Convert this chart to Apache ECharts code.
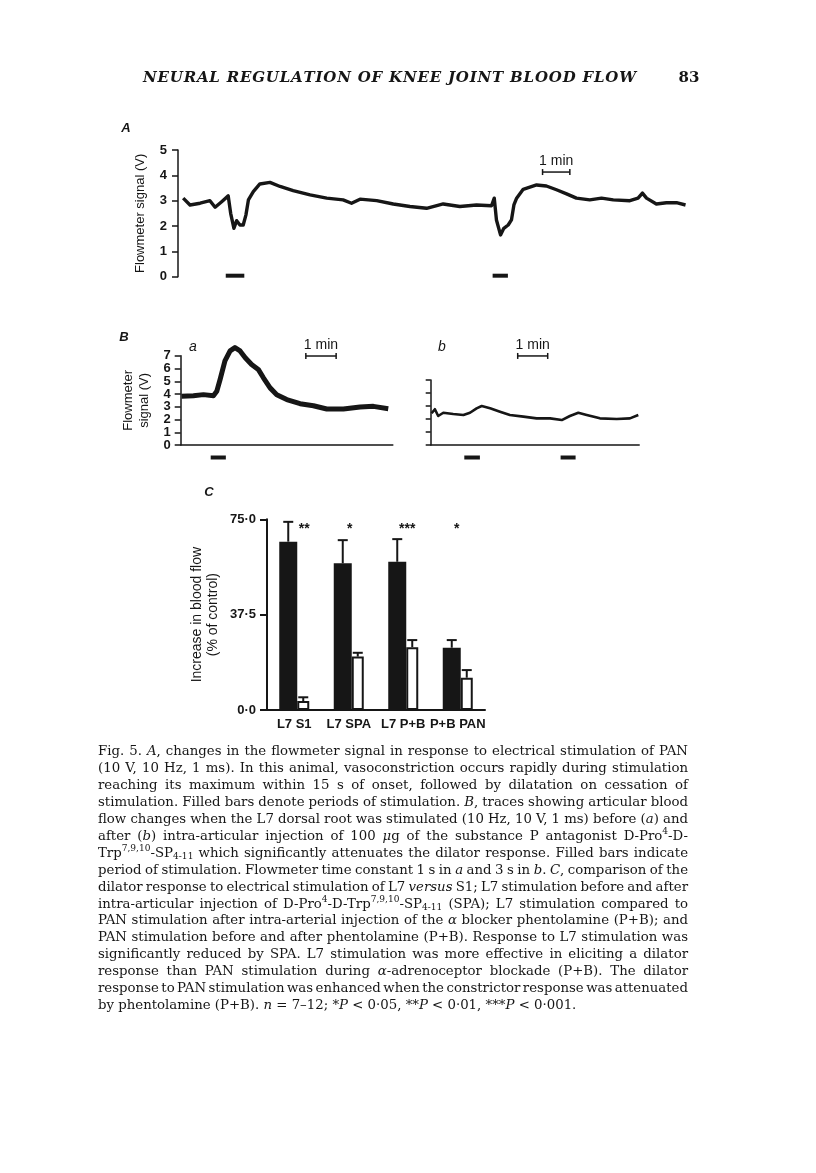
<!DOCTYPE html>
<html>
<head>
<meta charset="utf-8">
<script src="https://cdn.jsdelivr.net/npm/echarts@6/dist/echarts.min.js"></script>
<style>
  html, body { margin: 0; padding: 0; background: #fff; }
  #page { width: 816px; height: 1173px; }
</style>
</head>
<body>
<div id="page"></div>
<script>
const INK = "#161616";
const SANS = "Liberation Sans";
const SERIF = "DejaVu Serif";

// A: flowmeter signal (V) against time (min), PAN stimulation
const traceA = [
  [0.19, 3.1], [0.44, 2.83], [0.81, 2.9], [1.17, 3.0], [1.36, 2.74], [1.6, 2.96], [1.84, 3.19],
  [1.93, 2.5], [2.05, 1.91], [2.15, 2.21], [2.27, 2.04], [2.39, 2.04], [2.49, 2.44], [2.58, 3.03],
  [2.76, 3.36], [3.0, 3.66], [3.37, 3.72], [3.74, 3.56], [4.22, 3.4], [4.84, 3.23], [5.45, 3.1],
  [6.05, 3.03], [6.36, 2.9], [6.67, 3.06], [7.28, 3.0], [7.89, 2.87], [8.5, 2.77], [9.11, 2.7],
  [9.72, 2.87], [10.33, 2.77], [10.94, 2.83], [11.49, 2.8], [11.59, 3.1], [11.67, 2.24], [11.82, 1.65],
  [11.94, 1.91], [12.1, 2.04], [12.22, 2.24], [12.31, 2.83], [12.41, 3.1], [12.65, 3.45], [13.14, 3.62],
  [13.5, 3.58], [13.87, 3.43], [14.24, 3.27], [14.6, 3.1], [15.09, 3.03], [15.52, 3.1], [15.95, 3.03],
  [16.56, 3.0], [16.86, 3.1], [17.02, 3.3], [17.17, 3.1], [17.53, 2.87], [17.9, 2.92], [18.27, 2.92],
  [18.6, 2.83]
];
const stimA = [[1.75, 2.43, 0], [11.53, 12.09, 0]];
const scaleA = [[13.36, 14.36, 4.13]];

// B a: L7 stimulation before SPA
const traceBa = [
  [0.03, 3.82], [0.42, 3.87], [0.75, 3.95], [1.08, 3.87], [1.19, 4.21], [1.3, 5.14], [1.46, 6.59],
  [1.63, 7.38], [1.79, 7.64], [1.96, 7.38], [2.13, 6.85], [2.34, 6.32], [2.56, 5.93], [2.73, 5.27],
  [2.95, 4.48], [3.17, 3.95], [3.5, 3.56], [3.94, 3.24], [4.38, 3.08], [4.82, 2.82], [5.37, 2.82],
  [5.92, 2.98], [6.36, 3.03], [6.85, 2.85]
];
const stimBa = [[0.99, 1.49, 0]];
const scaleBa = [[4.13, 5.13, 6.98]];
const ticksBa = [0, 1, 2, 3, 4, 5, 6, 7];

// B b: after SPA
const traceBb = [
  [0.03, 2.44], [0.14, 2.75], [0.25, 2.23], [0.42, 2.48], [0.75, 2.38], [1.09, 2.31], [1.31, 2.48],
  [1.53, 2.82], [1.7, 3.0], [1.98, 2.82], [2.31, 2.56], [2.64, 2.31], [3.09, 2.18], [3.53, 2.05],
  [3.98, 2.05], [4.37, 1.92], [4.64, 2.23], [4.92, 2.48], [5.2, 2.31], [5.64, 2.05], [6.2, 2.0],
  [6.64, 2.05], [6.92, 2.31]
];
const stimBb = [[1.12, 1.64, 0], [4.33, 4.83, 0]];
const scaleBb = [[2.9, 3.9, 6.85]];
const scaleLabel = "1 min";

// C: increase in blood flow (% of control)
const groups = ["L7 S1", "L7 SPA", "L7 P+B", "P+B PAN"];
const filledMean = [66.2, 57.7, 58.3, 24.5];
const filledErr = [7.8, 9.1, 8.9, 3.0];
const openMean = [3.5, 21.0, 24.7, 12.7];
const openErr = [1.5, 1.5, 2.8, 3.0];
const stars = ["**", "*", "***", "*"];

const header = "NEURAL REGULATION OF KNEE JOINT BLOOD FLOW";
const pageNo = "83";

// _x_ italic, ^x^ superscript, ~x~ subscript
const captionLines = [
  "Fig. 5. _A_, changes in the flowmeter signal in response to electrical stimulation of PAN",
  "(10 V, 10 Hz, 1 ms). In this animal, vasoconstriction occurs rapidly during stimulation",
  "reaching its maximum within 15 s of onset, followed by dilatation on cessation of",
  "stimulation. Filled bars denote periods of stimulation. _B_, traces showing articular blood",
  "flow changes when the L7 dorsal root was stimulated (10 Hz, 10 V, 1 ms) before (_a_) and",
  "after (_b_) intra-articular injection of 100 _μ_g of the substance P antagonist D-Pro^4^-D-",
  "Trp^7,9,10^-SP~4-11~ which significantly attenuates the dilator response. Filled bars indicate",
  "period of stimulation. Flowmeter time constant 1 s in _a_ and 3 s in _b_. _C_, comparison of the",
  "dilator response to electrical stimulation of L7 _versus_ S1; L7 stimulation before and after",
  "intra-articular injection of D-Pro^4^-D-Trp^7,9,10^-SP~4-11~ (SPA); L7 stimulation compared to",
  "PAN stimulation after intra-arterial injection of the _α_ blocker phentolamine (P+B); and",
  "PAN stimulation before and after phentolamine (P+B). Response to L7 stimulation was",
  "significantly reduced by SPA. L7 stimulation was more effective in eliciting a dilator",
  "response than PAN stimulation during _α_-adrenoceptor blockade (P+B). The dilator",
  "response to PAN stimulation was enhanced when the constrictor response was attenuated",
  "by phentolamine (P+B). _n_ = 7–12; *_P_ < 0·05, **_P_ < 0·01, ***_P_ < 0·001."
];

// ---- text layout helpers ----
const measureCtx = document.createElement("canvas").getContext("2d");

function segFont(kind, size) {
  if (kind === "i") return `italic ${size}px "${SERIF}"`;
  if (kind === "sup" || kind === "sub") return `${(size * 0.68).toFixed(2)}px "${SERIF}"`;
  return `${size}px "${SERIF}"`;
}

function splitSegs(word) {
  const segs = [];
  const re = /_([^_]+)_|\^([^^]+)\^|~([^~]+)~|([^_^~]+)/g;
  let m;
  while ((m = re.exec(word))) {
    if (m[1]) segs.push({ t: m[1], k: "i" });
    else if (m[2]) segs.push({ t: m[2], k: "sup" });
    else if (m[3]) segs.push({ t: m[3], k: "sub" });
    else segs.push({ t: m[4], k: "n" });
  }
  return segs;
}

function segWidth(s, size) {
  measureCtx.font = segFont(s.k, size);
  return measureCtx.measureText(s.t).width;
}

function textEl(x, y, text, font, align) {
  return {
    type: "text",
    x: x,
    y: y,
    silent: true,
    style: { text: text, font: font, fill: INK, textAlign: align || "left", textVerticalAlign: "middle" },
  };
}

function captionElements() {
  const left = 98, right = 688, top = 752, lineH = 16.9;
  const boxW = right - left;
  const words = captionLines.map((l) => l.split(" ").map(splitSegs));
  const base = 12.5;
  measureCtx.font = segFont("n", base);
  const sp = measureCtx.measureText(" ").width;
  let sum = 0;
  words.slice(0, -1).forEach((ws) => {
    sum += ws.reduce((a, w) => a + w.reduce((b, s) => b + segWidth(s, base), 0), 0) + sp * (ws.length - 1);
  });
  const avg = sum / (words.length - 1);
  const size = Math.min(14, Math.max(11, (base * 0.985 * boxW) / avg));
  measureCtx.font = segFont("n", size);
  const space = measureCtx.measureText(" ").width;

  const out = [];
  words.forEach((ws, li) => {
    const y = top + li * lineH;
    const widths = ws.map((w) => w.reduce((b, s) => b + segWidth(s, size), 0));
    const total = widths.reduce((a, b) => a + b, 0);
    const last = li === words.length - 1;
    const gap = last || ws.length < 2 ? space : Math.max(1.5, (boxW - total) / (ws.length - 1));
    let x = left;
    ws.forEach((w, wi) => {
      let sx = x;
      w.forEach((s) => {
        const dy = s.k === "sup" ? -0.36 * size : s.k === "sub" ? 0.26 * size : 0;
        out.push(textEl(sx, y + dy, s.t, segFont(s.k, size)));
        sx += segWidth(s, size);
      });
      x += widths[wi] + gap;
    });
  });
  return out;
}

function headerElements() {
  const left = 143, right = 636, y = 78;
  const font = `italic bold 15px "${SERIF}"`;
  measureCtx.font = font;
  const chars = header.split("");
  const ws = chars.map((c) => measureCtx.measureText(c).width);
  const total = ws.reduce((a, b) => a + b, 0);
  const extra = (right - left - total) / (chars.length - 1);
  const out = [];
  let x = left;
  chars.forEach((c, i) => {
    if (c !== " ") out.push(textEl(x, y, c, font));
    x += ws[i] + extra;
  });
  out.push(textEl(689, y, pageNo, `bold 15px "${SERIF}"`, "center"));
  return out;
}

// ---- custom renderers ----
function stimRender(drop) {
  return function (params, api) {
    const a = api.coord([api.value(0), api.value(2)]);
    const b = api.coord([api.value(1), api.value(2)]);
    return {
      type: "rect",
      shape: { x: a[0], y: a[1] + drop - 2, width: b[0] - a[0], height: 4 },
      style: { fill: INK },
    };
  };
}

function scaleRender(params, api) {
  const a = api.coord([api.value(0), api.value(2)]);
  const b = api.coord([api.value(1), api.value(2)]);
  const ln = { stroke: INK, lineWidth: 1.5 };
  return {
    type: "group",
    children: [
      { type: "line", shape: { x1: a[0], y1: a[1], x2: b[0], y2: b[1] }, style: ln },
      { type: "line", shape: { x1: a[0], y1: a[1] - 3, x2: a[0], y2: a[1] + 3 }, style: ln },
      { type: "line", shape: { x1: b[0], y1: b[1] - 3, x2: b[0], y2: b[1] + 3 }, style: ln },
      {
        type: "text",
        x: (a[0] + b[0]) / 2,
        y: a[1] - 11,
        style: { text: scaleLabel, font: `14px "${SANS}"`, fill: INK, textAlign: "center", textVerticalAlign: "middle" },
      },
    ],
  };
}

// tick labels of B a are packed tighter than echarts allows, so draw them here
function tickLabelRender(params, api) {
  const p = api.coord([0, api.value(0)]);
  return {
    type: "text",
    x: p[0] - 10,
    y: p[1],
    style: { text: String(api.value(0)), font: `bold 13px "${SANS}"`, fill: INK, textAlign: "right", textVerticalAlign: "middle" },
  };
}

const FILLED_W = 18, OPEN_W = 12;
function errRender(dx) {
  return function (params, api) {
    const base = api.coord([api.value(0), api.value(1)]);
    const top = api.coord([api.value(0), api.value(1) + api.value(2)]);
    const x = base[0] + dx;
    const st = { stroke: INK, lineWidth: 2 };
    return {
      type: "group",
      children: [
        { type: "line", shape: { x1: x, y1: base[1], x2: x, y2: top[1] }, style: st },
        { type: "line", shape: { x1: x - 5, y1: top[1], x2: x + 5, y2: top[1] }, style: st },
      ],
    };
  };
}

const STAR_LEVEL = 71;
const starDx = [10, 1, 4, -1];
function starRender(params, api) {
  const p = api.coord([api.value(0), api.value(1)]);
  return {
    type: "text",
    x: p[0] + starDx[params.dataIndex],
    y: p[1],
    style: { text: stars[params.dataIndex], font: `bold 14px "${SANS}"`, fill: INK, textAlign: "center", textVerticalAlign: "middle" },
  };
}

// ---- axes ----
const tickLabel = {
  color: INK,
  fontFamily: SANS,
  fontSize: 13,
  fontWeight: "bold",
  showMinLabel: true,
  showMaxLabel: true,
};
const axisLn = { show: true, lineStyle: { color: INK, width: 1.5 } };

function yAxisCfg(grid, max, extra) {
  return Object.assign(
    {
      type: "value",
      gridIndex: grid,
      min: 0,
      max: max,
      interval: 1,
      axisLine: axisLn,
      axisTick: { show: true, length: 6, lineStyle: { color: INK, width: 1.5 } },
      splitLine: { show: false },
      nameLocation: "middle",
      nameTextStyle: { color: INK, fontFamily: SANS, fontSize: 13, lineHeight: 16 },
    },
    extra
  );
}

const chart = echarts.init(document.getElementById("page"), null, { renderer: "canvas" });

const option = {
  animation: false,
  backgroundColor: "#fff",
  grid: [
    { left: 178, top: 150, width: 513, height: 126.7, outerBoundsMode: "none" },
    { left: 180.7, top: 355.75, width: 212.1, height: 89.25, outerBoundsMode: "none" },
    { left: 430.7, top: 380, width: 208.5, height: 65, outerBoundsMode: "none" },
    { left: 267, top: 519.3, width: 218, height: 190.7, outerBoundsMode: "none" },
  ],
  xAxis: [
    { type: "value", gridIndex: 0, min: 0, max: 18.8, show: false },
    { type: "value", gridIndex: 1, min: 0, max: 7, axisLine: axisLn, axisTick: { show: false }, axisLabel: { show: false }, splitLine: { show: false } },
    { type: "value", gridIndex: 2, min: 0, max: 6.95, axisLine: axisLn, axisTick: { show: false }, axisLabel: { show: false }, splitLine: { show: false } },
    {
      type: "category",
      gridIndex: 3,
      data: groups,
      axisLine: { show: true, lineStyle: { color: INK, width: 2 } },
      axisTick: { show: false },
      axisLabel: Object.assign({ margin: 8, interval: 0 }, tickLabel),
    },
  ],
  yAxis: [
    yAxisCfg(0, 5, { name: "Flowmeter signal (V)", nameGap: 25, axisLabel: Object.assign({ margin: 11 }, tickLabel) }),
    yAxisCfg(1, 7, { name: "Flowmeter\nsignal (V)", nameGap: 28, axisLabel: { show: false } }),
    yAxisCfg(2, 5, { axisLabel: { show: false }, axisTick: { show: true, length: 5, lineStyle: { color: INK, width: 1.5 } } }),
    yAxisCfg(3, 75, {
      interval: 37.5,
      name: "Increase in blood flow\n(% of control)",
      nameGap: 46,
      nameTextStyle: { color: INK, fontFamily: SANS, fontSize: 14, lineHeight: 16 },
      axisLine: { show: true, lineStyle: { color: INK, width: 2 } },
      axisTick: { show: true, length: 7, lineStyle: { color: INK, width: 2 } },
      axisLabel: Object.assign({ margin: 11, formatter: (v) => v.toFixed(1).replace(".", "·") }, tickLabel),
    }),
  ],
  series: [
    { type: "line", xAxisIndex: 0, yAxisIndex: 0, data: traceA, showSymbol: false, clip: false, lineStyle: { color: INK, width: 3.4, join: "round" } },
    { type: "line", xAxisIndex: 1, yAxisIndex: 1, data: traceBa, showSymbol: false, clip: false, lineStyle: { color: INK, width: 5, join: "round" } },
    { type: "line", xAxisIndex: 2, yAxisIndex: 2, data: traceBb, showSymbol: false, clip: false, lineStyle: { color: INK, width: 2.6, join: "round" } },
    { type: "custom", xAxisIndex: 0, yAxisIndex: 0, data: stimA, encode: { x: [0, 1], y: 2 }, renderItem: stimRender(-1), clip: false },
    { type: "custom", xAxisIndex: 1, yAxisIndex: 1, data: stimBa, encode: { x: [0, 1], y: 2 }, renderItem: stimRender(12.5), clip: false },
    { type: "custom", xAxisIndex: 2, yAxisIndex: 2, data: stimBb, encode: { x: [0, 1], y: 2 }, renderItem: stimRender(12.5), clip: false },
    { type: "custom", xAxisIndex: 0, yAxisIndex: 0, data: scaleA, encode: { x: [0, 1], y: 2 }, renderItem: scaleRender, clip: false },
    { type: "custom", xAxisIndex: 1, yAxisIndex: 1, data: scaleBa, encode: { x: [0, 1], y: 2 }, renderItem: scaleRender, clip: false },
    { type: "custom", xAxisIndex: 2, yAxisIndex: 2, data: scaleBb, encode: { x: [0, 1], y: 2 }, renderItem: scaleRender, clip: false },
    { type: "custom", xAxisIndex: 1, yAxisIndex: 1, data: ticksBa.map((v) => [v]), encode: { y: 0 }, renderItem: tickLabelRender, clip: false },
    { type: "bar", name: "Before", xAxisIndex: 3, yAxisIndex: 3, data: filledMean, barWidth: FILLED_W, barGap: "0%", itemStyle: { color: INK } },
    { type: "bar", name: "After", xAxisIndex: 3, yAxisIndex: 3, data: openMean, barWidth: OPEN_W, barGap: "0%", itemStyle: { color: "#fff", borderColor: INK, borderWidth: 2 } },
    { type: "custom", xAxisIndex: 3, yAxisIndex: 3, z: 5, data: filledMean.map((v, i) => [i, v, filledErr[i]]), encode: { x: 0, y: 1 }, renderItem: errRender(-OPEN_W / 2) },
    { type: "custom", xAxisIndex: 3, yAxisIndex: 3, z: 5, data: openMean.map((v, i) => [i, v, openErr[i]]), encode: { x: 0, y: 1 }, renderItem: errRender(FILLED_W / 2) },
    { type: "custom", xAxisIndex: 3, yAxisIndex: 3, z: 5, data: stars.map((s, i) => [i, STAR_LEVEL]), encode: { x: 0, y: 1 }, renderItem: starRender },
  ],
  graphic: {
    elements: [
      textEl(126, 128, "A", `italic bold 13px "${SANS}"`, "center"),
      textEl(124, 337, "B", `italic bold 13px "${SANS}"`, "center"),
      textEl(209, 492, "C", `italic bold 13px "${SANS}"`, "center"),
      textEl(193, 347, "a", `italic 14px "${SANS}"`, "center"),
      textEl(442, 347, "b", `italic 14px "${SANS}"`, "center"),
    ]
      .concat(headerElements())
      .concat(captionElements()),
  },
};

chart.setOption(option, true);
</script>
</body>
</html>
